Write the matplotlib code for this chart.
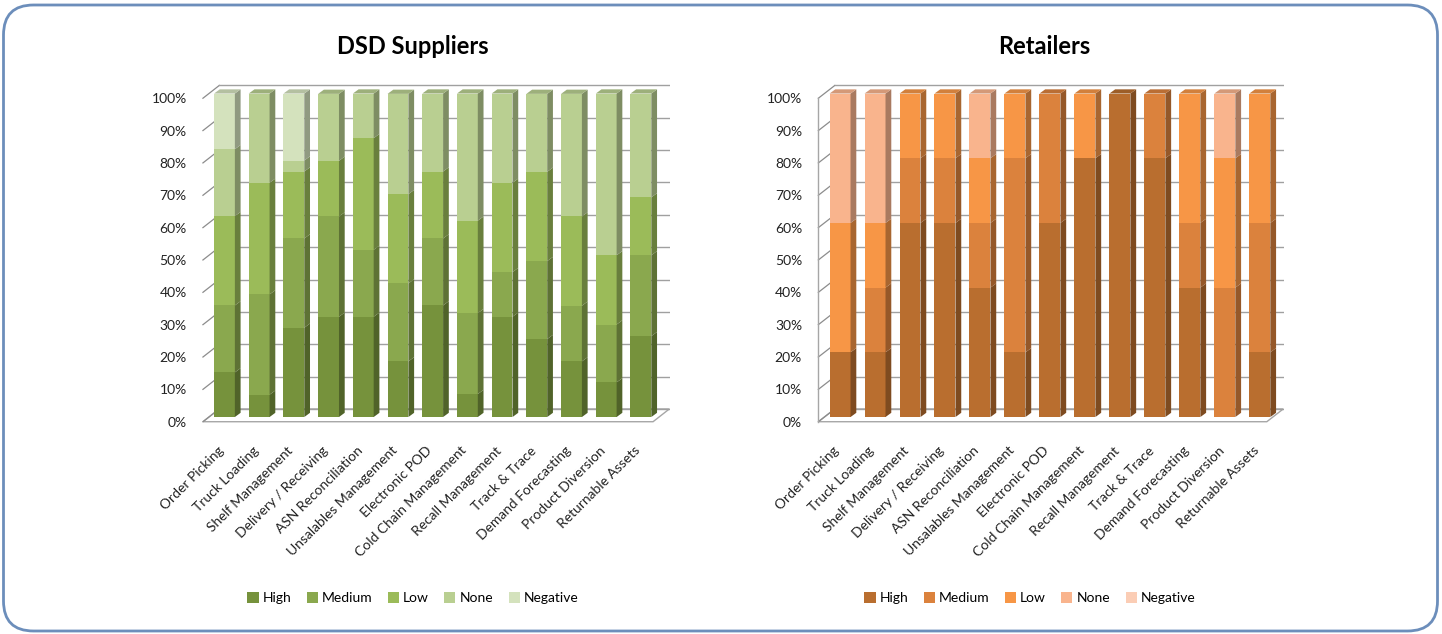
import matplotlib
matplotlib.use("Agg")
import matplotlib.pyplot as plt
import numpy as np
from matplotlib.patches import Polygon, FancyBboxPatch
from matplotlib.transforms import IdentityTransform
from matplotlib.colors import to_rgb

plt.rcParams['font.family'] = ['Lato', 'DejaVu Sans']

categories = ["Order Picking", "Truck Loading", "Shelf Management", "Delivery / Receiving",
              "ASN Reconciliation", "Unsalables Management", "Electronic POD",
              "Cold Chain Management", "Recall Management", "Track & Trace",
              "Demand Forecasting", "Product Diversion", "Returnable Assets"]
levels = ["High", "Medium", "Low", "None", "Negative"]

# DSD suppliers, share of respondents (%)
dsd_high = [13.8, 6.9, 27.6, 31.0, 31.0, 17.2, 34.5, 7.1, 31.0, 24.1, 17.2, 10.7, 25.0]
dsd_medium = [20.7, 31.0, 27.6, 31.0, 20.7, 24.1, 20.7, 25.0, 13.8, 24.1, 17.2, 17.9, 25.0]
dsd_low = [27.6, 34.5, 20.7, 17.2, 34.5, 27.6, 20.7, 28.6, 27.6, 27.6, 27.6, 21.4, 17.9]
dsd_none = [20.7, 27.6, 3.4, 20.7, 13.8, 31.0, 24.1, 39.3, 27.6, 24.1, 37.9, 50.0, 32.1]
dsd_negative = [17.2, 0, 20.7, 0, 0, 0, 0, 0, 0, 0, 0, 0, 0]

# Retailers, share of respondents (%)
ret_high = [20, 20, 60, 60, 40, 20, 60, 80, 100, 80, 40, 0, 20]
ret_medium = [0, 20, 20, 20, 20, 60, 40, 0, 0, 20, 20, 40, 40]
ret_low = [40, 20, 20, 20, 20, 20, 0, 20, 0, 0, 40, 40, 40]
ret_none = [40, 40, 0, 0, 20, 0, 0, 0, 0, 0, 0, 20, 0]
ret_negative = [0, 0, 0, 0, 0, 0, 0, 0, 0, 0, 0, 0, 0]

green = ["#76923C", "#8AA84E", "#9BBB59", "#B9CF91", "#D4E2BD"]
orange = ["#B96E2F", "#DB823D", "#F79646", "#F9B48D", "#FBCDB5"]

W = 1442
H = 634
fig = plt.figure(figsize=(W / 100, H / 100), dpi=100)

# rounded frame around the whole chart
r = 30
frame = FancyBboxPatch((3.5 + r, 3.0 + r), 1434 - 2 * r, 626 - 2 * r,
                       boxstyle=f"round,pad={r},rounding_size={r}",
                       transform=IdentityTransform(), fill=False,
                       edgecolor="#6C8EBB", linewidth=2.0)
fig.patches.append(frame)

bw = 0.6          # bar width
sdx, sdy = 0.165, 1.3     # bar depth offset
fy = -1.45                # floor front edge
bx, by = 0.47, 3.95       # wall depth from floor front
grid_vals = np.arange(0, 101, 10)


def shade(c, f):
    return tuple(min(1, v * f) for v in to_rgb(c))


def panel(rect, series, colors, title, title_x, legend_x, xmax, yline=False):
    ax = fig.add_axes(rect)
    n = len(categories)
    x = np.arange(n)
    ax.set_xlim(-0.65, xmax)
    ax.set_ylim(-2, 104)

    # floor, side wall and back wall
    x0 = ax.get_xlim()[0] + 0.03
    x1 = xmax - bx - 0.03
    ax.add_patch(Polygon([(x0, fy), (x1, fy), (x1 + bx, fy + by), (x0 + bx, fy + by)],
                         closed=True, facecolor="white", edgecolor="#A6A6A6",
                         linewidth=1.0, zorder=1))
    for v in grid_vals:
        ax.plot([x0, x0 + bx], [v + fy, v + fy + by], color="#8C8C8C", lw=0.9, zorder=1)
        ax.plot([x0 + bx, x1 + bx], [v + fy + by] * 2, color="#A0A0A0", lw=1.0, zorder=1)
    if yline:
        ax.plot([x0, x0], [fy, 100 + fy], color="#A6A6A6", lw=1.0, zorder=1)

    bottom = np.zeros(n)
    tops = [None] * n
    for vals, c, lab in zip(series, colors, levels):
        vals = np.array(vals, dtype=float)
        ax.bar(x, vals, width=bw, bottom=bottom, color=c, linewidth=0, label=lab, zorder=3)
        for i in range(n):
            if vals[i] <= 0:
                continue
            xr = x[i] + bw / 2
            b, t = bottom[i], bottom[i] + vals[i]
            ax.add_patch(Polygon([(xr, b), (xr + sdx, b + sdy), (xr + sdx, t + sdy), (xr, t)],
                                 closed=True, facecolor=shade(c, 0.68), edgecolor="none",
                                 zorder=3))
            tops[i] = c
        bottom += vals
    for i in range(n):
        xl = x[i] - bw / 2
        t = bottom[i]
        ax.add_patch(Polygon([(xl, t), (xl + sdx, t + sdy), (xl + bw + sdx, t + sdy), (xl + bw, t)],
                             closed=True, facecolor=shade(tops[i], 0.85), edgecolor="none",
                             zorder=3))

    for s in ax.spines.values():
        s.set_visible(False)
    ax.set_yticks(grid_vals + fy)
    ax.set_yticklabels([f"{v}%" for v in grid_vals], fontsize=10, color="#222222")
    ax.tick_params(axis="y", length=0, pad=11)
    ax.set_xticks(x - 0.08)
    ax.set_xticklabels(categories, rotation=45, ha="right", va="center",
                       rotation_mode="anchor", fontsize=10, color="#222222")
    ax.tick_params(axis="x", length=0, pad=18)

    fig.text(title_x / W, 1 - 47 / H, title, ha="center", va="center",
             fontsize=17, fontweight="bold")
    ax.legend(loc="center", bbox_to_anchor=(legend_x / W, 1 - 598 / H),
              bbox_transform=fig.transFigure, ncol=5, frameon=False, fontsize=10,
              handlelength=0.8, handleheight=0.8, handletextpad=0.3,
              columnspacing=1.1)
    return ax


ybot = 1 - 423.5 / H
yh = 342.9 / H

panel([201.9 / W, ybot, 468.5 / W, yh],
      [dsd_high, dsd_medium, dsd_low, dsd_none, dsd_negative],
      green, "DSD Suppliers", 413, 413, 12.85)
panel([817.3 / W, ybot, 467.0 / W, yh],
      [ret_high, ret_medium, ret_low, ret_none, ret_negative],
      orange, "Retailers", 1044, 1030, 12.7, yline=True)

fig.savefig("out.png", dpi=100)
